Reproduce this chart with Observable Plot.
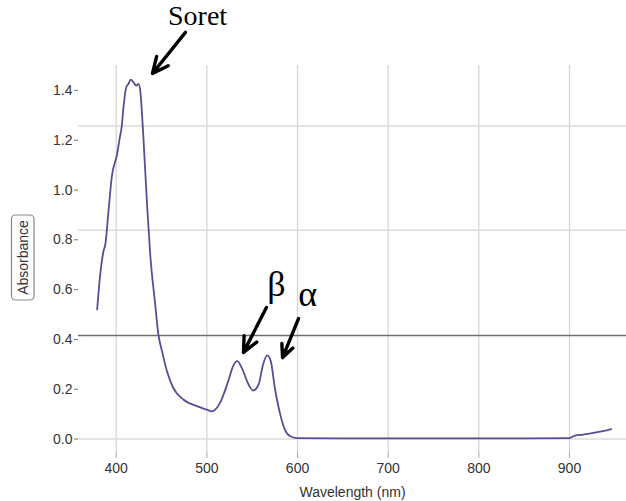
<!DOCTYPE html>
<html>
<head>
<meta charset="utf-8">
<script src="https://cdn.jsdelivr.net/npm/d3@7"></script>
<script src="https://cdn.jsdelivr.net/npm/@observablehq/plot@0.6"></script>
<style>
  html, body { margin: 0; padding: 0; background: #fff; }
  #chart { width: 626px; height: 501px; }
</style>
</head>
<body>
<div id="chart"></div>
<script>
// Spectrum (wavelength in nm, absorbance)
const wavelength = [379, 382, 386, 388, 391.5, 395, 401, 404, 406, 408, 411, 413.5, 416, 419, 422, 424.5, 426.5, 428, 430, 434, 437.5, 443, 446.5, 450.5, 456, 463, 474, 489, 500, 505.5, 514.5, 523.5, 529, 533.5, 538.5, 546, 551, 557, 562, 566.5, 570.5, 575, 581, 586, 592, 599, 650, 700, 750, 800, 850, 900, 906, 915, 922, 931, 941, 946];
const absorbance = [0.52, 0.648, 0.755, 0.782, 0.916, 1.05, 1.144, 1.211, 1.252, 1.332, 1.412, 1.426, 1.443, 1.433, 1.419, 1.426, 1.399, 1.332, 1.211, 0.943, 0.742, 0.541, 0.42, 0.353, 0.272, 0.205, 0.159, 0.132, 0.118, 0.111, 0.145, 0.232, 0.293, 0.313, 0.286, 0.219, 0.195, 0.219, 0.299, 0.336, 0.313, 0.205, 0.098, 0.038, 0.011, 0.004, 0.003, 0.003, 0.003, 0.003, 0.003, 0.004, 0.014, 0.018, 0.022, 0.028, 0.035, 0.04];

// Axis ticks
const xTicks = [400, 500, 600, 700, 800, 900];
const yTicks = [0, 0.2, 0.4, 0.6, 0.8, 1.0, 1.2, 1.4];

// Horizontal reference lines seen in the figure
const lightLines = [0, 0.838, 1.257];
const darkLines = [0.416];

// Annotations
const noteText = ["Soret", "β", "α"];
const noteX = [489.7, 576.8, 611.2];
const noteY = [1.661, 0.573, 0.536];
const noteSize = [28, 36, 36];
const arrowX1 = [476.4, 565.7, 601.1];
const arrowY1 = [1.633, 0.528, 0.484];
const arrowX2 = [440.0, 540.4, 583.5];
const arrowY2 = [1.468, 0.348, 0.327];

const spectrum = wavelength.map((w, i) => ({w, a: absorbance[i]}));
const notes = noteText.map((t, i) => ({t, x: noteX[i], y: noteY[i], s: noteSize[i]}));
const arrows = arrowX1.map((x1, i) => ({x1, y1: arrowY1[i], x2: arrowX2[i], y2: arrowY2[i]}));

const plot = Plot.plot({
  width: 626,
  height: 501,
  marginLeft: 78,
  marginRight: 0,
  marginTop: 65,
  marginBottom: 49,
  style: {fontFamily: "Liberation Sans, Arial, sans-serif", fontSize: "14px", color: "#333", background: "#fff"},
  x: {domain: [358.4, 962.9]},
  y: {domain: [-0.054, 1.5]},
  marks: [
    Plot.gridX(xTicks, {stroke: "#d4d4d4", strokeOpacity: 1, strokeWidth: 1.2}),
    Plot.ruleY(lightLines, {stroke: "#dcdcdc", strokeWidth: 1.5}),
    Plot.ruleY(darkLines, {stroke: "#6e6e6e", strokeWidth: 1.5}),
    Plot.axisX({ticks: xTicks, tickSize: 6, tickPadding: 5, stroke: "#aaa", label: "Wavelength (nm)", labelAnchor: "center", labelArrow: "none", labelOffset: 44}),
    Plot.axisY({ticks: yTicks, tickFormat: d3.format(".1f"), tickSize: 4, tickPadding: 2, stroke: "#777", label: null}),
    Plot.line(spectrum, {x: "w", y: "a", stroke: "#5d4b97", strokeWidth: 1.8, curve: "monotone-x"}),
    Plot.arrow(arrows, {x1: "x1", y1: "y1", x2: "x2", y2: "y2", stroke: "#000", strokeWidth: 3.4, headLength: 11, headAngle: 50}),
    Plot.text(notes, {x: "x", y: "y", text: "t", fontSize: d => d.s, fontFamily: "Liberation Serif, Times New Roman, serif", fill: "#000", textAnchor: "middle", lineAnchor: "bottom"})
  ]
});

// Boxed y-axis title
const svg = d3.select(plot);
const g = svg.append("g");
g.append("rect").attr("x", 11.5).attr("y", 215).attr("width", 22.5).attr("height", 85).attr("rx", 4)
  .attr("fill", "#fff").attr("stroke", "#888").attr("stroke-width", 1.2);
g.append("text").attr("transform", "translate(23,257.5) rotate(-90)")
  .attr("text-anchor", "middle").attr("dy", "0.35em")
  .attr("font-family", "Liberation Sans, Arial, sans-serif").attr("font-size", 14).attr("fill", "#333")
  .text("Absorbance");

document.getElementById("chart").appendChild(plot);
</script>
</body>
</html>
